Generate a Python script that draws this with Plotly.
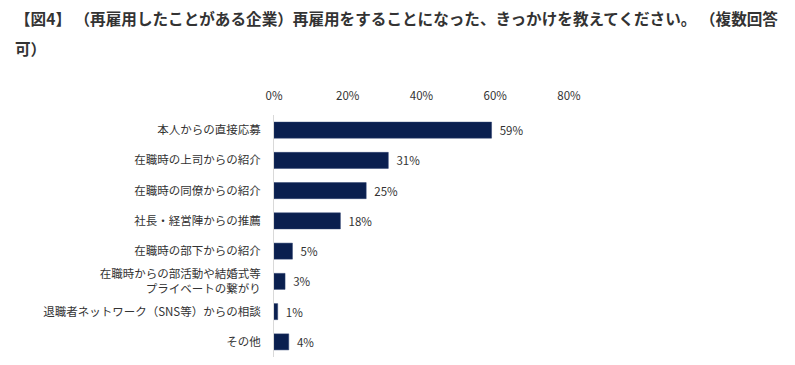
import plotly.graph_objects as go

categories = [
    "本人からの直接応募",
    "在職時の上司からの紹介",
    "在職時の同僚からの紹介",
    "社長・経営陣からの推薦",
    "在職時の部下からの紹介",
    "在職時からの部活動や結婚式等<br>プライベートの繋がり",
    "退職者ネットワーク（SNS等）からの相談",
    "その他",
]
values = [59, 31, 25, 18, 5, 3, 1, 4]
tick_vals = [0, 20, 40, 60, 80]
tick_text = ["0%", "20%", "40%", "60%", "80%"]
title_line1 = "【図4】 （再雇用したことがある企業）再雇用をすることになった、きっかけを教えてください。 （複数回答"
title_line2 = "可）"

font_family = "Noto Sans CJK JP, Noto Sans, sans-serif"

# page has 8px body margin; figure coordinates are page coordinates minus 8
OFF = 8
W, H = 795 - OFF, 365 - OFF
L, R, T, B = 274 - OFF, 226, 115 - OFF, 8
pw, ph = W - L - R, H - T - B


def px_x(x):
    return (x - OFF - L) / pw


def px_y(y):
    return (H - B - (y - OFF)) / ph


fig = go.Figure(
    go.Bar(
        x=values,
        y=categories,
        orientation="h",
        marker=dict(color="#0a1f4f", line=dict(color="#2a3f6f", width=0.5)),
        text=["\u00a0\u00a0" + f"{v}%" for v in values],
        textposition="outside",
        textfont=dict(size=11.5, color="#333333", family=font_family),
        cliponaxis=False,
    )
)

title_font = dict(size=15.6, color="#333333", family=font_family, weight="bold")
fig.update_layout(
    width=W,
    height=H,
    margin=dict(l=L, r=R, t=T, b=B),
    paper_bgcolor="white",
    plot_bgcolor="white",
    showlegend=False,
    bargap=0.47,
    font=dict(family=font_family, color="#333333", size=11.5),
    annotations=[
        dict(text=title_line1, x=px_x(13), y=px_y(18), xref="paper", yref="paper",
             xanchor="left", yanchor="middle", showarrow=False, align="left", font=title_font),
        dict(text=title_line2, x=px_x(13), y=px_y(48), xref="paper", yref="paper",
             xanchor="left", yanchor="middle", showarrow=False, align="left", font=title_font),
    ],
)

fig.update_xaxes(
    side="top",
    range=[0, 80],
    tickvals=tick_vals,
    ticktext=tick_text,
    showgrid=False,
    zeroline=False,
    showline=False,
    ticks="outside",
    ticklen=9,
    tickcolor="rgba(0,0,0,0)",
    tickfont=dict(size=11.5, color="#333333"),
    automargin=False,
    fixedrange=True,
)
fig.update_yaxes(
    autorange="reversed",
    showgrid=False,
    showline=True,
    linecolor="#d9d9d9",
    linewidth=1,
    ticks="",
    ticklabelstandoff=10,
    tickfont=dict(size=11.5, color="#333333"),
    automargin=False,
    fixedrange=True,
)

fig.write_html("out.html")
